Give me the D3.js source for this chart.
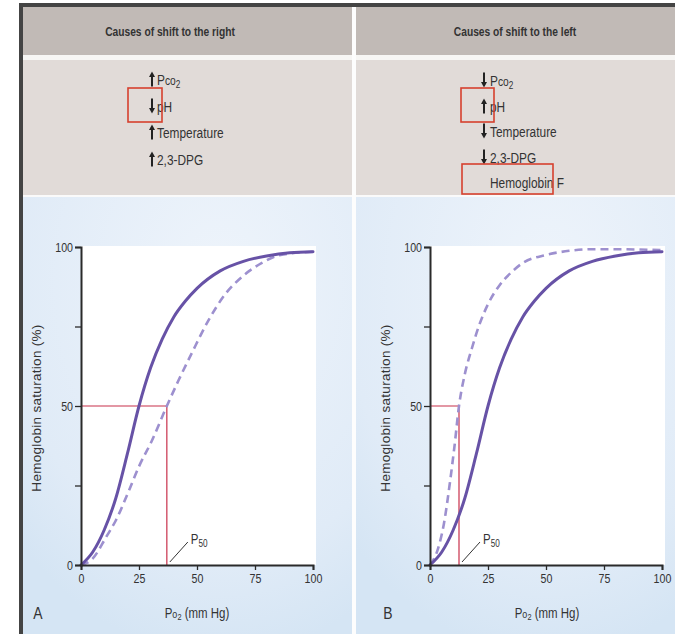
<!DOCTYPE html>
<html><head><meta charset="utf-8">
<script src="https://cdn.jsdelivr.net/npm/d3@7/dist/d3.min.js"></script>
<style>
html,body{margin:0;padding:0;background:#fff;}
svg{display:block;}
</style></head>
<body>
<svg id="c" width="675" height="634"></svg>
<script>
// ---- data ----
const xTicks = [0, 25, 50, 75, 100];
const yTicks = [0, 25, 50, 75, 100];
const yLabels = [0, 50, 100];
const headers = ["Causes of shift to the right", "Causes of shift to the left"];
const rightCauses = ["Pco2", "pH", "Temperature", "2,3-DPG"];
const rightDirs = ["up", "down", "up", "up"];
const leftCauses = ["Pco2", "pH", "Temperature", "2,3-DPG", "Hemoglobin F"];
const leftDirs = ["down", "up", "down", "down", null];
const panelLetters = ["A", "B"];
// normal curve (solid)
const normalPO2 = [0, 5, 10, 15, 20, 25, 30, 35, 40, 45, 50, 60, 70, 80, 90, 100];
const normalSat = [0, 4, 11, 21, 35, 50, 62, 71, 78, 83, 87, 92.5, 95.5, 97.2, 98.2, 98.5];
// right-shifted curve (dashed, panel A)
const rightPO2 = [0, 5, 11, 15, 21, 25, 30.5, 37, 42, 48, 55, 62, 70, 78, 86, 100];
const rightSat = [0, 2, 9, 14, 24, 31, 39, 50, 58, 67, 77, 85, 91, 95, 97.5, 98.5];
// left-shifted curve (dashed, panel B)
const leftPO2 = [0, 3.4, 6, 8.6, 10.5, 12.5, 15, 18, 21, 25, 30, 35, 40, 50, 60, 70, 80, 100];
const leftSat = [0, 5, 13, 26, 37, 50, 60, 68, 75, 82, 88, 92, 95, 97.5, 98.8, 99.3, 99.3, 99];
const p50Values = [37, 12.5];

const svg = d3.select("#c");
const font = "'Liberation Sans',Arial,sans-serif";
const SX = 0.82;

const defs = svg.append("defs");
const grad = defs.append("radialGradient").attr("id","bg").attr("cx","60%").attr("cy","20%").attr("r","85%");
grad.append("stop").attr("offset","0%").attr("stop-color","#eef4fb");
grad.append("stop").attr("offset","75%").attr("stop-color","#e0ebf7");
grad.append("stop").attr("offset","100%").attr("stop-color","#d5e5f4");

// narrow text helper (horizontal compression)
function ntext(x, y, size, anchor){
  return svg.append("text").attr("transform",`translate(${x},${y}) scale(${SX},1)`)
    .attr("text-anchor", anchor||"start").attr("font-family",font).attr("font-size",size).attr("fill","#333");
}

// outer frame
svg.append("rect").attr("x",19).attr("y",3).attr("width",656).attr("height",631).attr("fill","#444");
const cols = [{x0:23, x1:352}, {x0:356, x1:675}];
cols.forEach((c,i)=>{
  svg.append("rect").attr("x",c.x0).attr("y",7).attr("width",c.x1-c.x0).attr("height",48).attr("fill","#c1bab6");
  svg.append("rect").attr("x",c.x0).attr("y",55).attr("width",c.x1-c.x0).attr("height",5).attr("fill","#f7f6f4");
  svg.append("rect").attr("x",c.x0).attr("y",60).attr("width",c.x1-c.x0).attr("height",135).attr("fill","#e1dbd8");
  svg.append("rect").attr("x",c.x0).attr("y",195).attr("width",c.x1-c.x0).attr("height",2).attr("fill","#fafafa");
  svg.append("rect").attr("x",c.x0).attr("y",197).attr("width",c.x1-c.x0).attr("height",437).attr("fill","url(#bg)");
});
svg.append("rect").attr("x",352).attr("y",7).attr("width",4).attr("height",627).attr("fill","#fdfdfd");

// headers
[170, 515].forEach((cx,i)=>{
  ntext(cx, 36, 12.5, "middle").attr("font-weight","bold").text(headers[i]);
});

function arrow(x, yc, dir){
  const h = 15, top = yc - h/2, bot = yc + h/2;
  const g = svg.append("g").attr("fill","#222").attr("stroke","#222");
  g.append("line").attr("x1",x).attr("x2",x)
    .attr("y1", dir==="up" ? top+4 : top).attr("y2", dir==="up" ? bot : bot-4).attr("stroke-width",2);
  if(dir==="up") g.append("path").attr("d",`M${x-3},${top+5.5}L${x},${top}L${x+3},${top+5.5}Z`).attr("stroke","none");
  else g.append("path").attr("d",`M${x-3},${bot-5.5}L${x},${bot}L${x+3},${bot-5.5}Z`).attr("stroke","none");
}
function causeText(x, y, t){
  const tx = ntext(x, y, 14.5);
  if(t==="Pco2"){
    tx.append("tspan").text("P");
    tx.append("tspan").attr("font-size",12.5).text("co");
    tx.append("tspan").attr("font-size",10).attr("dy",3).text("2");
  } else tx.text(t);
}
const rowsR = [85, 112, 138, 165];
rightCauses.forEach((t,i)=>{ arrow(152, rowsR[i]-6, rightDirs[i]); causeText(157, rowsR[i], t); });
const rowsL = [86, 112, 137, 163, 188];
leftCauses.forEach((t,i)=>{ if(leftDirs[i]) arrow(484, rowsL[i]-6, leftDirs[i]); causeText(490, rowsL[i], t); });

// red highlight boxes
const boxStyle = s => s.attr("fill","none").attr("stroke","#d6402e").attr("stroke-width",1.6);
boxStyle(svg.append("rect").attr("x",128).attr("y",88).attr("width",34).attr("height",34));
boxStyle(svg.append("rect").attr("x",461).attr("y",88).attr("width",33).attr("height",34));
boxStyle(svg.append("rect").attr("x",462).attr("y",164).attr("width",91).attr("height",30));

// plots
const panels = [
  {x0:81, x1:313, white1:316, dashedX:rightPO2, dashedY:rightSat, labX:38, axLabX:197, yLabX:41},
  {x0:430, x1:662, white1:665, dashedX:leftPO2, dashedY:leftSat, labX:388, axLabX:547, yLabX:390}
];
const yTop = 247, yBot = 565;
panels.forEach((p,i)=>{
  const x = d3.scaleLinear().domain([0,100]).range([p.x0,p.x1]);
  const y = d3.scaleLinear().domain([0,100]).range([yBot,yTop]);
  svg.append("rect").attr("x",p.x0).attr("y",yTop-1).attr("width",p.white1-p.x0).attr("height",yBot-yTop+1).attr("fill","#fff");

  const line = d3.line().x(d=>x(d[0])).y(d=>y(d[1])).curve(d3.curveMonotoneX);
  const normal = normalPO2.map((v,k)=>[v, normalSat[k]]);
  const shifted = p.dashedX.map((v,k)=>[v, p.dashedY[k]]);

  // P50 red guides
  const p50 = p50Values[i];
  svg.append("path").attr("d",`M${x(0)},${y(50)}H${x(p50)}V${y(0)}`).attr("fill","none").attr("stroke","#c8314b").attr("stroke-width",1.2);

  svg.append("path").attr("d",line(shifted)).attr("fill","none").attr("stroke","#9d90cf").attr("stroke-width",2.6).attr("stroke-dasharray","8,5");
  svg.append("path").attr("d",line(normal)).attr("fill","none").attr("stroke","#6752a6").attr("stroke-width",3).attr("stroke-linecap","round");

  // axes
  const ax = svg.append("g").attr("transform",`translate(0,${yBot})`)
    .call(d3.axisBottom(x).tickValues(xTicks).tickSize(5).tickPadding(4));
  const ay = svg.append("g").attr("transform",`translate(${p.x0},0)`)
    .call(d3.axisLeft(y).tickValues(yTicks).tickSize(6).tickPadding(2).tickFormat(d=>yLabels.includes(d)?d:""));
  [ax,ay].forEach(a=>{
    a.select(".domain").attr("stroke","#2a2a2a").attr("stroke-width",2);
    a.selectAll(".tick line").attr("stroke","#2a2a2a").attr("stroke-width",1.3);
    a.selectAll("text").attr("font-family",font).attr("font-size",13).attr("fill","#333");
  });
  ax.selectAll("text").attr("transform",`scale(${SX},1)`);
  ay.selectAll("text").attr("dy","0.35em").attr("x",-8/SX).attr("transform",`scale(${SX},1)`);

  // P50 label
  svg.append("line").attr("x1",x(p50)+3).attr("y1",yBot-3).attr("x2",x(p50)+21).attr("y2",yBot-23).attr("stroke","#333").attr("stroke-width",1);
  const pt = ntext(x(p50)+24, yBot-21, 14);
  pt.append("tspan").text("P");
  pt.append("tspan").attr("font-size",10).attr("dy",3).text("50");

  // axis titles
  const xt = ntext(p.axLabX, 618, 14, "middle");
  xt.append("tspan").text("P");
  xt.append("tspan").attr("font-size",11).text("o");
  xt.append("tspan").attr("font-size",9).attr("dy",2).text("2");
  xt.append("tspan").attr("dy",-2).text(" (mm Hg)");
  svg.append("text").attr("transform",`translate(${p.yLabX},${408}) rotate(-90)`).attr("text-anchor","middle")
    .attr("font-family",font).attr("font-size",13.5).attr("letter-spacing",0.3).attr("fill","#333").text("Hemoglobin saturation (%)");
  ntext(p.labX, 619, 17, "middle").text(panelLetters[i]);
});
</script>
</body></html>
